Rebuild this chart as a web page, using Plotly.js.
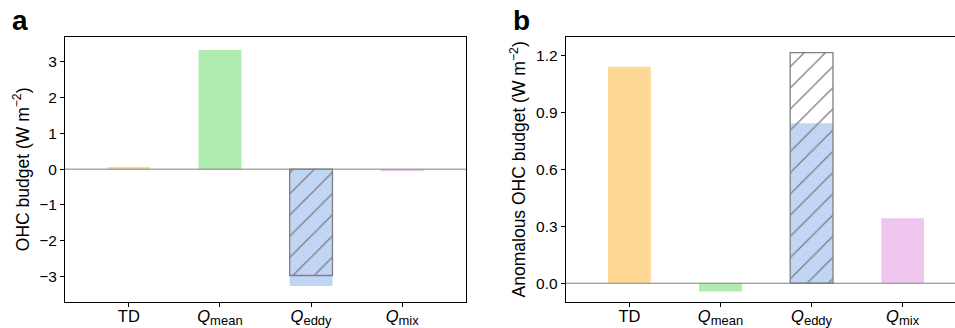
<!DOCTYPE html>
<html>
<head>
<meta charset="utf-8">
<script src="https://cdn.plot.ly/plotly-3.0.1.min.js"></script>
<style>html,body{margin:0;padding:0;background:#fff;}#chart{width:955px;height:328px;}</style>
</head>
<body>
<div id="chart"></div>
<script>
// ---- data ----
const categories = ['TD',
  '<i>Q</i><sub><span style="font-size:13px">mean</span></sub>',
  '<i>Q</i><sub><span style="font-size:13px">eddy</span></sub>',
  '<i>Q</i><sub><span style="font-size:13px">mix</span></sub>'];
const barColors = ['#FED995', '#B0EBB0', '#C1D5F5', '#EFC6EE'];
// panel a: climatological OHC budget
const budgetA = [0.06, 3.33, -3.26, -0.06];
const hatchA = [null, null, -2.97, null];
// panel b: anomalous OHC budget
const budgetB = [1.142, -0.044, 0.843, 0.343];
const hatchB = [null, null, 1.216, null];
const yTicksA = [-3, -2, -1, 0, 1, 2, 3];
const yTicksB = [0.0, 0.3, 0.6, 0.9, 1.2];

const W = 955, H = 328;
const font = "'Liberation Sans', Arial, sans-serif";
const barW = 0.47;

function colored(y, xa, ya) {
  return {type: 'bar', x: categories, y: y, xaxis: xa, yaxis: ya, width: barW,
    marker: {color: barColors, line: {width: 0}}, hoverinfo: 'skip', showlegend: false};
}
function hatched(y, xa, ya) {
  return {type: 'bar', x: categories, y: y, xaxis: xa, yaxis: ya, width: barW,
    marker: {color: 'rgba(0,0,0,0)', line: {color: '#808080', width: 1.3},
      pattern: {shape: '/', fgcolor: '#808080', bgcolor: 'rgba(0,0,0,0)', size: 15, solidity: 0.09}},
    hoverinfo: 'skip', showlegend: false};
}

const data = [
  colored(budgetA, 'x', 'y'), hatched(hatchA, 'x', 'y'),
  colored(budgetB, 'x2', 'y2'), hatched(hatchB, 'x2', 'y2')
];

const axBase = {showline: true, linecolor: '#000', linewidth: 1, ticks: 'outside', ticklen: 4,
  tickcolor: '#000', tickwidth: 1, showgrid: false, zeroline: false,
  tickfont: {family: font, size: 15.5, color: '#000'}};
const xTickFont = {family: font, size: 16.5, color: '#000'};
const titleFont = {family: font, size: 17.5, color: '#000'};

const yDom = [(H - 302) / H, (H - 36.7) / H];

const layout = {
  width: W, height: H,
  margin: {l: 0, r: 0, t: 0, b: 0},
  paper_bgcolor: '#fff', plot_bgcolor: '#fff',
  barmode: 'overlay',
  font: {family: font, color: '#000'},
  xaxis: Object.assign({}, axBase, {domain: [65 / W, 466 / W], range: [-0.7, 3.7], mirror: true,
    type: 'category', anchor: 'y', tickfont: xTickFont, ticklabelstandoff: -5}),
  yaxis: Object.assign({}, axBase, {domain: yDom, range: [-3.71, 3.70], mirror: true, anchor: 'x',
    tickvals: yTicksA,
    title: {text: 'OHC budget (W m<sup>−2</sup>)', font: titleFont, standoff: 5}}),
  xaxis2: Object.assign({}, axBase, {domain: [565.7 / W, 1], range: [-0.7, 3.575], mirror: true,
    type: 'category', anchor: 'y2', tickfont: xTickFont, ticklabelstandoff: -5}),
  yaxis2: Object.assign({}, axBase, {domain: yDom, range: [-0.099, 1.30], mirror: false, anchor: 'x2',
    tickvals: yTicksB, tickformat: '.1f',
    title: {text: 'Anomalous OHC budget (W m<sup>−2</sup>)', font: titleFont, standoff: 5}}),
  shapes: [
    {type: 'line', xref: 'x domain', yref: 'y', x0: 0, x1: 1, y0: 0, y1: 0, layer: 'above',
      line: {color: '#808080', width: 1}},
    {type: 'line', xref: 'x2 domain', yref: 'y2', x0: 0, x1: 1, y0: 0, y1: 0, layer: 'above',
      line: {color: '#808080', width: 1}}
  ],
  annotations: [
    {text: '<b>a</b>', xref: 'paper', yref: 'paper', x: 10 / W, y: 1 - 3 / H, xanchor: 'left', yanchor: 'top',
      showarrow: false, font: {family: font, size: 28, color: '#000'}},
    {text: '<b>b</b>', xref: 'paper', yref: 'paper', x: 511 / W, y: 1 - 3 / H, xanchor: 'left', yanchor: 'top',
      showarrow: false, font: {family: font, size: 28, color: '#000'}}
  ]
};

Plotly.newPlot('chart', data, layout, {staticPlot: true, displayModeBar: false});
</script>
</body>
</html>
